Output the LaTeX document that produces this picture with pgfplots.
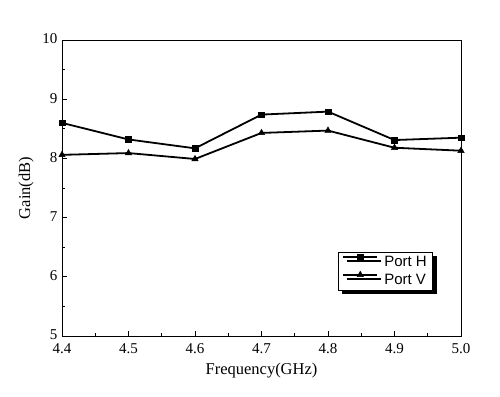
\documentclass[border=0pt]{standalone}
\usepackage{fontspec}
\setmainfont{Liberation Serif}
\newfontfamily\arialfont{Liberation Sans}
\usepackage{pgfplots}
\pgfplotsset{compat=1.18}
\usetikzlibrary{shadows}
\begin{document}
\begin{tikzpicture}
\begin{axis}[
  scale only axis,
  width=399pt, height=296pt,
  xmin=4.4, xmax=5.0, ymin=5, ymax=10,
  xtick={4.4,4.5,4.6,4.7,4.8,4.9,5.0},
  xticklabels={4.4,4.5,4.6,4.7,4.8,4.9,5.0},
  ytick={5,6,7,8,9,10},
  yticklabels={5,6,7,8,9,10},
  /pgf/number format/assume math mode=true,
  minor x tick num=1, minor y tick num=1,
  tick pos=left,
  tick align=inside,
  major tick length=5pt, minor tick length=3pt,
  every tick/.style={black, line width=0.8pt},
  axis line style={line width=0.9pt},
  ticklabel style={font=\fontsize{15}{17}\selectfont},
  xticklabel style={yshift=-4pt},
  yticklabel style={xshift=-1pt, yshift=1pt},
  xlabel={Frequency(GHz)},
  ylabel={Gain(dB)},
  label style={font=\fontsize{16.5}{19}\selectfont},
  xlabel style={yshift=-2pt},
  ylabel style={yshift=2pt},
  legend style={at={(0.93,0.284)}, anchor=north east, draw=black, line width=0.6pt, fill=white,
     font=\arialfont\fontsize{15}{17}\selectfont,
     inner xsep=4pt, inner ysep=2pt, row sep=1pt,
     /tikz/every odd column/.append style={column sep=4pt},
     drop shadow={shadow xshift=4pt, shadow yshift=-4pt, fill=black, opacity=1}},
  legend cell align=left,
  legend image code/.code={\draw[mark repeat=2,mark phase=2] plot coordinates {(0cm,5.3pt)(0.6cm,5.3pt)(1.2cm,5.3pt)};},
]
\addplot[black, line width=1.8pt, mark=square*, mark size=2.8pt, mark options={solid, line width=0.5pt}]
coordinates {(4.4,8.6)(4.5,8.32)(4.6,8.17)(4.7,8.74)(4.8,8.79)(4.9,8.31)(5.0,8.35)};
\addlegendentry{Port H}
\addplot[black, line width=1.8pt, mark=triangle*, mark size=3.6pt, mark options={solid, line width=0.5pt}]
coordinates {(4.4,8.06)(4.5,8.09)(4.6,7.99)(4.7,8.43)(4.8,8.47)(4.9,8.18)(5.0,8.13)};
\addlegendentry{Port V}
\end{axis}
\path ([xshift=-62pt,yshift=-60pt]current axis.south west) rectangle ([xshift=39pt,yshift=40pt]current axis.north east);
\end{tikzpicture}
\end{document}
